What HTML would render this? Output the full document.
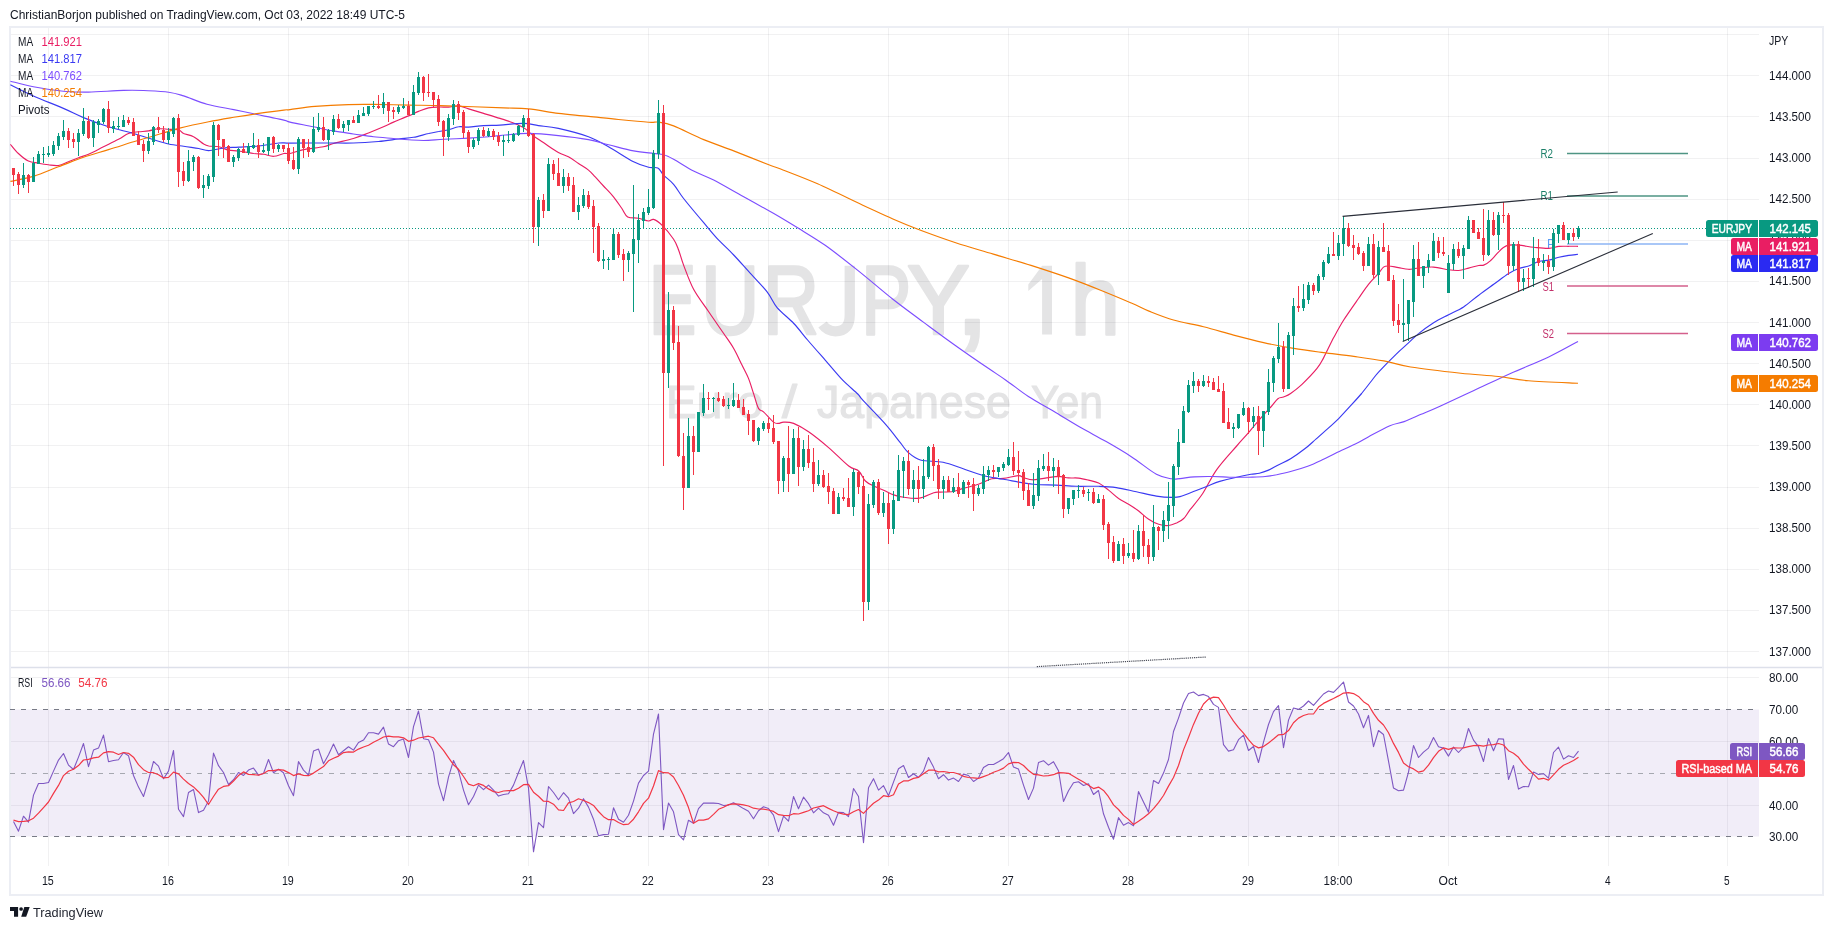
<!DOCTYPE html><html><head><meta charset="utf-8"><title>EURJPY 1h</title><style>html,body{margin:0;padding:0;background:#fff}svg{display:block}</style></head><body><svg width="1833" height="930" viewBox="0 0 1833 930" font-family="Liberation Sans, sans-serif"><defs><filter id="gs" filterUnits="userSpaceOnUse" x="0" y="0" width="1833" height="930"><feOffset dx="0" dy="0"/></filter></defs><g filter="url(#gs)"><rect width="1833" height="930" fill="#fff"/><rect x="10" y="27" width="1813" height="868" fill="none" stroke="#eceef4" stroke-width="2"/><text transform="translate(648.71 334) scale(0.7358 1.0136)" font-size="97" fill="#e4e4e5" stroke="#e4e4e5" stroke-width="2.4" vector-effect="non-scaling-stroke" stroke-linejoin="round">E</text><text transform="translate(700.83 334) scale(0.8393 1.0136)" font-size="97" fill="#e4e4e5" stroke="#e4e4e5" stroke-width="2.4" vector-effect="non-scaling-stroke" stroke-linejoin="round">U</text><text transform="translate(763.09 334) scale(0.8018 1.0136)" font-size="97" fill="#e4e4e5" stroke="#e4e4e5" stroke-width="2.4" vector-effect="non-scaling-stroke" stroke-linejoin="round">R</text><text transform="translate(860.90 334) scale(0.7750 1.0136)" font-size="97" fill="#e4e4e5" stroke="#e4e4e5" stroke-width="2.4" vector-effect="non-scaling-stroke" stroke-linejoin="round">P</text><text transform="translate(906.86 334) scale(0.9797 1.0136)" font-size="97" fill="#e4e4e5" stroke="#e4e4e5" stroke-width="2.4" vector-effect="non-scaling-stroke" stroke-linejoin="round">Y</text><text transform="translate(953.70 334) scale(1.3667 1.3667)" font-size="97" fill="#e4e4e5" stroke="#e4e4e5" stroke-width="2.4" vector-effect="non-scaling-stroke" stroke-linejoin="round">,</text><text transform="translate(1070.46 334) scale(0.9195 1.0136)" font-size="97" fill="#e4e4e5" stroke="#e4e4e5" stroke-width="2.4" vector-effect="non-scaling-stroke" stroke-linejoin="round">h</text><path d="M1042.1 265.8H1052V334.6H1042.1V279L1028.3 291V284.5z" fill="#e4e4e5"/><path d="M849.75 265.8V315Q849.75 331.3 835.5 331.3Q827.5 331.3 822.5 324.5" fill="none" stroke="#e4e4e5" stroke-width="10.3"/><text x="666" y="418" font-size="46.5" fill="#e4e4e5" stroke="#e4e4e5" stroke-width="1.2" stroke-linejoin="round" textLength="97" lengthAdjust="spacingAndGlyphs">Euro</text><text x="782" y="418" font-size="46.5" fill="#e4e4e5" stroke="#e4e4e5" stroke-width="1.2" stroke-linejoin="round" textLength="15" lengthAdjust="spacingAndGlyphs">/</text><text x="817" y="418" font-size="46.5" fill="#e4e4e5" stroke="#e4e4e5" stroke-width="1.2" stroke-linejoin="round" textLength="194" lengthAdjust="spacingAndGlyphs">Japanese</text><text x="1031" y="418" font-size="46.5" fill="#e4e4e5" stroke="#e4e4e5" stroke-width="1.2" stroke-linejoin="round" textLength="72" lengthAdjust="spacingAndGlyphs">Yen</text><path d="M11 34.5H1759 M11 75.5H1759 M11 116.5H1759 M11 158.5H1759 M11 199.5H1759 M11 240.5H1759 M11 281.5H1759 M11 322.5H1759 M11 363.5H1759 M11 404.5H1759 M11 445.5H1759 M11 487.5H1759 M11 528.5H1759 M11 569.5H1759 M11 610.5H1759 M11 651.5H1759 M11 677.5H1759 M11 741.5H1759 M11 805.5H1759 M48.5 28V866 M168.5 28V866 M288.5 28V866 M408.5 28V866 M528.5 28V866 M648.5 28V866 M768.5 28V866 M888.5 28V866 M1008.5 28V866 M1128.5 28V866 M1248.5 28V866 M1338.5 28V866 M1448.5 28V866 M1608.5 28V866 M1727.5 28V866" stroke="rgba(42,46,57,0.068)" stroke-width="1" fill="none"/><path d="M11 667.5H1822" stroke="#dde0ea" stroke-width="1.3"/><rect x="11" y="709.5" width="1748" height="127" fill="#7e57c2" fill-opacity="0.11"/><path d="M10 709.5H1759M10 836.5H1759" stroke="#787b86" stroke-width="1.2" stroke-dasharray="5 6"/><path d="M10 773.5H1759" stroke="#a6a8b0" stroke-width="1.2" stroke-dasharray="5 6"/><path d="M10 228.5H1706" stroke="#089981" stroke-width="1" stroke-dasharray="1 2"/><path d="M1567 153.5H1688M1567 196H1688" stroke="#4f9584" stroke-width="1.4"/><path d="M1567 244H1688" stroke="#8db4f5" stroke-width="1.4"/><path d="M1567 286H1688M1567 333.5H1688" stroke="#d4608c" stroke-width="1.4"/><g font-size="12"><text x="1540.5" y="158" fill="#1b7f68" textLength="12.5" lengthAdjust="spacingAndGlyphs">R2</text><text x="1540.5" y="200" fill="#1b7f68" textLength="12.5" lengthAdjust="spacingAndGlyphs">R1</text><text x="1547" y="248" fill="#5b9cf6">P</text><text x="1542.5" y="290.5" fill="#c2306a" textLength="11.5" lengthAdjust="spacingAndGlyphs">S1</text><text x="1542.5" y="338" fill="#c2306a" textLength="11.5" lengthAdjust="spacingAndGlyphs">S2</text></g><path d="M10.4 144.3C11.7 145.8 15.4 150.7 18.4 153.5C21.4 156.3 25.0 159.4 28.4 161.0C31.7 162.6 35.1 162.5 38.4 163.2C41.7 163.8 45.1 164.4 48.4 164.8C51.8 165.2 55.1 166.0 58.4 165.5C61.8 165.0 65.1 163.1 68.4 161.8C71.8 160.5 75.1 158.9 78.5 157.7C81.8 156.4 84.3 156.1 88.5 154.3C92.7 152.5 98.5 149.3 103.5 146.8C108.5 144.3 114.4 141.5 118.5 139.3C122.7 137.1 125.2 134.7 128.5 133.5C131.9 132.2 135.2 132.2 138.6 131.8C141.9 131.4 145.2 131.5 148.6 130.9C151.9 130.4 155.3 129.1 158.6 128.8C161.9 128.5 165.3 129.1 168.6 129.3C171.9 129.4 176.1 129.1 178.6 129.8C181.1 130.5 181.1 132.3 183.6 133.5C186.1 134.6 190.3 135.0 193.6 136.8C197.0 138.5 201.2 142.4 203.7 144.0C206.2 145.5 206.2 145.5 208.7 146.0C211.2 146.4 215.4 146.1 218.7 146.8C222.0 147.5 225.4 149.5 228.7 150.1C232.0 150.8 234.5 150.4 238.7 151.0C242.9 151.5 249.6 152.9 253.7 153.5C257.9 154.0 260.4 153.8 263.8 154.3C267.1 154.8 270.4 156.5 273.8 156.3C277.1 156.2 281.1 154.0 283.8 153.5C286.5 153.0 286.7 154.1 290.0 153.5C293.3 152.8 297.8 150.8 303.4 149.6C308.9 148.5 318.4 147.8 323.4 146.8C328.4 145.8 328.4 144.9 333.4 143.5C338.4 142.1 347.6 140.2 353.4 138.5C359.3 136.7 363.5 134.9 368.5 133.0C373.5 131.0 379.3 128.6 383.5 126.8C387.7 125.0 389.3 123.9 393.5 122.1C397.7 120.3 404.4 117.7 408.5 115.9C412.7 114.1 415.2 112.8 418.5 111.4C421.9 110.1 425.2 108.6 428.6 107.9C431.9 107.2 435.2 107.2 438.6 107.1C441.9 106.9 445.3 107.3 448.6 107.1C451.9 106.9 455.3 105.6 458.6 105.9C461.9 106.2 464.5 107.7 468.6 108.9C472.8 110.2 478.4 111.8 483.6 113.4C488.9 115.0 495.6 117.0 500.0 118.4C504.4 119.8 506.1 120.2 510.0 121.7C513.9 123.2 519.5 125.2 523.4 127.6C527.3 129.9 530.0 133.4 533.4 135.9C536.7 138.4 539.2 139.8 543.4 142.6C547.6 145.4 554.3 150.2 558.4 152.6C562.6 155.0 565.1 155.0 568.4 156.8C571.8 158.6 575.1 161.2 578.5 163.5C581.8 165.7 585.7 167.9 588.5 170.1C591.3 172.4 592.7 174.2 595.2 176.8C597.7 179.5 600.4 182.7 603.5 186.0C606.6 189.3 610.5 193.1 613.5 196.8C616.6 200.6 619.5 205.2 621.9 208.5C624.2 211.9 624.9 215.3 627.7 216.9C630.5 218.5 635.1 217.5 638.6 218.2C642.0 218.9 646.1 220.9 648.6 221.0C651.1 221.2 651.4 218.7 653.6 219.4C655.8 220.1 658.6 221.9 661.9 225.2C665.3 228.5 670.8 235.1 673.6 239.2C676.4 243.3 677.0 245.7 678.6 250.0C680.3 254.4 681.1 258.5 683.6 265.1C686.1 271.6 689.5 281.5 693.6 289.3C697.8 297.1 703.7 304.4 708.7 311.8C713.7 319.2 719.5 327.4 723.7 333.5C727.9 339.6 730.7 343.2 733.7 348.5C736.8 353.8 739.6 360.3 742.1 365.2C744.5 370.2 746.6 373.7 748.5 378.4C750.4 383.1 751.8 388.4 753.5 393.4C755.2 398.4 756.8 405.4 758.5 408.4C760.2 411.5 761.0 409.5 763.5 411.8C766.0 414.0 771.0 420.2 773.5 422.1C776.0 424.0 776.9 423.4 778.5 423.4C780.2 423.4 781.0 422.1 783.6 422.1C786.1 422.1 789.4 421.8 793.6 423.4C797.7 425.1 802.7 427.7 808.6 431.8C814.4 435.8 821.9 441.9 828.6 447.6C835.3 453.3 843.6 462.1 848.7 466.0C853.7 469.9 855.9 468.5 858.7 471.0C861.5 473.5 862.8 478.5 865.4 481.0C867.9 483.5 870.6 484.5 873.7 486.0C876.8 487.6 880.4 488.7 883.7 490.2C887.1 491.7 890.4 493.7 893.7 494.9C897.1 496.1 899.6 496.7 903.7 497.2C907.9 497.8 913.8 499.0 918.8 498.2C923.8 497.5 930.3 493.7 933.8 492.7C937.3 491.7 936.7 492.3 940.0 492.1C943.3 491.9 949.5 492.1 953.4 491.5C957.3 490.8 959.2 489.6 963.4 488.4C967.5 487.2 973.7 485.9 978.4 484.3C983.1 482.7 987.6 479.7 991.8 478.8C995.9 477.8 999.0 479.0 1003.4 478.4C1007.9 477.9 1015.1 475.7 1018.5 475.6C1021.8 475.5 1021.0 476.9 1023.5 477.6C1026.0 478.3 1029.3 479.8 1033.5 479.8C1037.7 479.8 1044.3 478.2 1048.5 477.6C1052.7 477.0 1055.2 476.4 1058.5 476.4C1061.9 476.5 1065.2 477.6 1068.5 477.9C1071.9 478.2 1075.2 477.7 1078.6 478.1C1081.9 478.5 1085.2 479.3 1088.6 480.1C1091.9 480.9 1095.3 481.4 1098.6 483.1C1101.9 484.8 1105.3 487.6 1108.6 490.1C1111.9 492.7 1115.3 496.1 1118.6 498.5C1122.0 500.8 1125.3 502.2 1128.6 504.3C1132.0 506.4 1135.3 508.5 1138.7 511.0C1142.0 513.5 1145.3 517.1 1148.7 519.3C1152.0 521.6 1155.4 523.3 1158.7 524.3C1162.0 525.4 1165.6 525.8 1168.7 525.5C1171.8 525.2 1174.5 523.8 1177.1 522.7C1179.6 521.5 1181.6 520.6 1183.7 518.5C1185.9 516.4 1186.8 514.1 1189.9 509.9C1193.1 505.8 1198.2 500.2 1202.7 493.5C1207.2 486.7 1211.2 477.3 1216.9 469.4C1222.6 461.4 1231.5 452.0 1236.7 446.0C1241.9 439.9 1244.3 437.6 1248.1 433.2C1251.9 428.8 1255.7 424.1 1259.4 419.7C1263.2 415.3 1267.7 410.4 1270.8 407.0C1273.9 403.5 1275.7 400.4 1277.9 398.7C1280.0 397.1 1281.4 397.9 1283.5 397.0C1285.7 396.1 1287.6 395.6 1290.6 393.5C1293.7 391.3 1297.6 388.4 1302.0 384.3C1306.4 380.1 1313.4 372.9 1317.0 368.4C1320.7 364.0 1320.9 362.7 1323.7 357.6C1326.5 352.4 1330.4 343.8 1333.7 337.6C1337.1 331.3 1339.6 326.5 1343.7 320.0C1347.9 313.5 1354.3 304.5 1358.5 298.5C1362.6 292.6 1365.1 288.5 1368.5 284.3C1371.8 280.1 1376.0 276.3 1378.5 273.5C1381.0 270.6 1381.8 268.4 1383.5 267.1C1385.2 265.9 1386.0 265.9 1388.5 266.0C1391.0 266.0 1395.2 267.1 1398.5 267.6C1401.9 268.2 1405.2 269.2 1408.5 269.3C1411.9 269.4 1414.4 268.3 1418.6 268.0C1422.7 267.6 1428.6 266.8 1433.6 267.1C1438.6 267.4 1444.4 269.2 1448.6 269.8C1452.8 270.4 1455.3 270.7 1458.6 270.5C1462.0 270.2 1465.3 269.0 1468.6 268.1C1472.0 267.3 1476.2 266.0 1478.7 265.5C1481.2 265.0 1481.7 265.9 1483.7 265.1C1485.6 264.4 1487.8 263.2 1490.3 260.9C1492.8 258.7 1496.5 254.0 1498.7 251.8C1500.9 249.5 1502.0 248.4 1503.7 247.3C1505.4 246.1 1506.2 245.5 1508.7 245.1C1511.2 244.7 1514.5 244.7 1518.7 245.1C1522.9 245.5 1528.7 246.7 1533.7 247.3C1538.8 247.8 1544.6 248.6 1548.8 248.4C1552.9 248.3 1555.5 246.8 1558.8 246.4C1562.1 246.1 1565.6 246.3 1568.8 246.3C1572.0 246.2 1576.5 246.3 1578.0 246.3" fill="none" stroke="#e91e63" stroke-width="1.15" stroke-linejoin="round"/><path d="M10.4 84.7C14.2 86.6 24.5 91.9 33.4 95.9C42.2 99.8 55.1 104.8 63.4 108.4C71.8 112.0 76.0 114.5 83.5 117.6C91.0 120.7 100.2 124.1 108.5 126.8C116.9 129.4 126.0 131.3 133.6 133.5C141.1 135.6 147.7 138.0 153.6 139.8C159.4 141.5 163.6 142.9 168.6 144.0C173.6 145.1 178.6 145.6 183.6 146.3C188.6 147.1 194.5 147.8 198.7 148.5C202.8 149.2 204.5 150.7 208.7 150.6C212.8 150.6 218.7 148.6 223.7 148.0C228.7 147.4 232.9 147.5 238.7 147.1C244.6 146.8 252.1 146.7 258.8 146.0C265.4 145.3 273.6 143.4 278.8 143.0C284.0 142.5 282.6 143.1 290.0 143.1C297.4 143.1 312.8 143.0 323.4 143.0C334.0 142.9 344.3 143.2 353.4 143.0C362.6 142.7 371.0 142.1 378.5 141.5C386.0 140.8 392.7 139.7 398.5 139.0C404.4 138.3 408.5 138.2 413.5 137.3C418.5 136.4 424.4 134.4 428.6 133.5C432.7 132.5 435.2 132.1 438.6 131.5C441.9 130.8 445.3 130.6 448.6 129.8C451.9 129.0 455.3 127.2 458.6 126.8C461.9 126.3 464.5 127.3 468.6 127.1C472.8 126.9 478.4 125.9 483.6 125.6C488.9 125.3 493.4 125.4 500.0 125.1C506.6 124.7 517.0 123.3 523.4 123.4C529.8 123.5 532.6 124.7 538.4 125.6C544.2 126.4 550.1 126.5 558.4 128.4C566.8 130.3 580.1 133.7 588.5 136.7C596.8 139.8 601.0 142.6 608.5 146.8C616.0 150.9 626.9 158.4 633.6 161.8C640.2 165.2 644.5 166.3 648.6 167.3C652.6 168.3 655.3 166.7 657.8 168.0C660.3 169.3 661.0 172.4 663.6 175.1C666.2 177.9 670.3 180.4 673.6 184.3C677.0 188.2 678.6 192.1 683.6 198.5C688.6 204.9 698.1 216.1 703.7 222.7C709.2 229.4 712.0 233.0 717.0 238.4C722.0 243.7 728.2 249.2 733.7 255.0C739.3 260.9 744.8 267.3 750.4 273.4C756.0 279.5 762.7 286.1 767.1 291.8C771.6 297.5 772.7 302.3 777.1 307.6C781.6 312.9 788.7 318.1 793.8 323.5C798.9 328.9 802.4 333.9 807.6 340.0C812.8 346.1 819.3 353.4 825.2 360.1C831.0 366.8 837.3 374.5 842.7 380.2C848.2 385.8 854.4 390.6 857.8 394.0C861.1 397.3 858.2 395.2 862.8 400.2C867.4 405.2 879.1 417.0 885.4 424.1C891.7 431.2 896.7 438.2 900.5 442.9C904.2 447.6 904.6 449.3 908.0 452.2C911.3 455.0 914.7 458.3 920.5 460.0C926.4 461.6 936.0 460.8 943.1 462.2C950.2 463.7 956.5 466.5 963.2 468.7C969.9 471.0 976.6 473.8 983.3 475.5C990.0 477.3 995.0 477.8 1003.3 479.3C1011.7 480.7 1024.7 483.3 1033.5 484.3C1042.2 485.3 1048.9 484.7 1056.1 485.1C1063.2 485.4 1069.0 486.1 1076.1 486.3C1083.2 486.5 1092.0 486.1 1098.7 486.3C1105.4 486.5 1110.0 486.6 1116.3 487.6C1122.6 488.5 1129.7 490.4 1136.4 491.8C1143.0 493.2 1150.6 495.2 1156.4 496.1C1162.3 497.0 1167.6 497.3 1171.5 497.3C1175.4 497.4 1176.2 497.6 1180.0 496.6C1183.8 495.6 1189.5 493.2 1194.2 491.3C1198.9 489.5 1204.1 487.3 1208.4 485.7C1212.6 484.0 1215.0 482.8 1219.7 481.4C1224.4 480.0 1231.5 478.3 1236.7 477.2C1241.9 476.0 1247.1 475.0 1250.9 474.3C1254.7 473.7 1256.6 473.9 1259.4 473.2C1262.3 472.5 1264.6 471.8 1267.9 470.4C1271.3 468.9 1275.5 466.3 1279.3 464.4C1283.1 462.5 1286.4 461.3 1290.6 458.7C1294.9 456.1 1300.6 452.1 1304.8 448.8C1309.1 445.5 1312.4 442.2 1316.2 438.9C1320.0 435.6 1323.7 432.4 1327.5 428.9C1331.3 425.5 1335.1 422.1 1338.9 418.3C1342.6 414.5 1346.4 410.4 1350.2 406.2C1354.0 402.1 1357.9 397.8 1361.6 393.5C1365.2 389.1 1369.3 383.6 1372.2 380.0C1375.1 376.4 1374.8 376.1 1378.8 371.8C1382.8 367.5 1391.0 359.1 1396.0 354.3C1401.0 349.4 1404.8 346.4 1408.5 342.9C1412.3 339.5 1414.4 336.9 1418.6 333.6C1422.7 330.2 1428.6 325.9 1433.6 322.7C1438.6 319.6 1443.6 317.3 1448.6 314.7C1453.6 312.1 1458.6 310.1 1463.6 306.9C1468.6 303.6 1473.6 298.9 1478.7 295.2C1483.7 291.4 1488.7 287.9 1493.7 284.3C1498.7 280.7 1504.5 276.1 1508.7 273.5C1512.9 270.8 1515.4 269.7 1518.7 268.5C1522.1 267.2 1525.4 267.1 1528.7 266.0C1532.1 264.8 1535.4 262.4 1538.8 261.5C1542.1 260.5 1545.4 260.8 1548.8 260.1C1552.1 259.4 1555.5 258.1 1558.8 257.3C1562.1 256.5 1565.6 255.9 1568.8 255.4C1572.0 254.9 1576.5 254.5 1578.0 254.3" fill="none" stroke="#3a3af2" stroke-width="1.15" stroke-linejoin="round"/><path d="M10.4 81.2C14.2 82.1 24.5 85.0 33.4 86.7C42.2 88.4 54.3 90.3 63.4 91.2C72.6 92.1 78.5 92.2 88.5 92.1C98.5 91.9 114.4 90.6 123.5 90.4C132.7 90.1 136.1 90.2 143.6 90.5C151.1 90.9 161.9 91.3 168.6 92.2C175.3 93.1 177.2 93.9 183.6 95.9C190.0 97.9 198.7 102.0 207.0 104.2C215.4 106.5 225.9 108.0 233.7 109.6C241.5 111.2 245.4 112.0 253.7 113.8C262.1 115.5 277.8 118.7 283.8 120.1C289.8 121.5 285.1 121.0 290.0 122.1C294.9 123.2 306.1 125.3 313.4 126.8C320.6 128.3 326.7 129.8 333.4 130.9C340.1 132.1 346.8 133.0 353.4 134.0C360.1 134.9 366.8 136.0 373.5 136.8C380.1 137.5 387.7 138.0 393.5 138.5C399.3 139.0 403.5 139.5 408.5 139.8C413.5 140.1 417.7 140.5 423.6 140.5C429.4 140.4 436.1 139.7 443.6 139.3C451.1 138.9 461.1 138.5 468.6 138.1C476.1 137.7 483.4 137.2 488.7 136.8C493.9 136.4 493.4 136.1 500.0 135.6C506.6 135.0 518.6 133.4 528.4 133.4C538.1 133.4 548.4 134.5 558.4 135.6C568.4 136.6 580.1 138.1 588.5 139.6C596.8 141.1 601.0 142.9 608.5 144.8C616.0 146.6 626.0 149.5 633.6 150.9C641.1 152.4 648.6 152.8 653.6 153.4C658.6 154.1 660.3 153.8 663.6 154.8C666.9 155.7 668.6 156.6 673.6 159.3C678.6 162.0 687.0 167.5 693.6 171.0C700.3 174.4 705.3 175.8 713.7 180.1C722.0 184.5 733.7 191.3 743.7 196.8C753.7 202.4 764.8 208.4 773.8 213.5C782.8 218.7 789.0 222.5 797.6 227.8C806.1 233.1 815.1 238.2 825.2 245.3C835.2 252.4 846.5 261.4 857.8 270.4C869.1 279.4 882.1 290.7 892.9 299.3C903.8 307.9 912.6 314.1 923.0 321.9C933.5 329.6 944.8 338.0 955.7 345.7C966.5 353.4 979.9 362.6 988.3 368.3C996.7 374.0 999.2 375.5 1005.9 380.2C1012.6 384.8 1020.1 391.0 1028.4 396.5C1036.8 401.9 1047.3 407.5 1056.1 412.8C1064.8 418.0 1072.8 423.0 1081.1 427.8C1089.5 432.6 1097.9 436.8 1106.2 441.6C1114.6 446.4 1123.0 451.3 1131.3 456.7C1139.7 462.1 1149.7 470.6 1156.4 474.3C1163.1 477.9 1167.6 478.1 1171.5 478.8C1175.4 479.5 1176.2 478.9 1180.0 478.6C1183.8 478.3 1188.7 477.2 1194.2 476.9C1199.6 476.5 1206.7 476.4 1212.6 476.5C1218.5 476.5 1223.7 477.0 1229.6 477.2C1235.6 477.3 1242.2 477.3 1248.1 477.2C1254.0 477.0 1260.4 476.9 1265.1 476.5C1269.8 476.1 1272.2 475.6 1276.5 474.8C1280.7 473.9 1285.4 472.9 1290.6 471.5C1295.8 470.1 1302.5 468.1 1307.7 466.2C1312.9 464.3 1317.1 462.3 1321.8 460.1C1326.6 457.9 1330.1 455.9 1336.0 453.0C1341.9 450.2 1351.9 445.8 1357.3 443.1C1362.7 440.4 1363.2 439.6 1368.7 436.7C1374.1 433.8 1384.0 428.2 1389.9 425.7C1395.8 423.1 1398.9 423.5 1404.1 421.6C1409.3 419.7 1415.2 416.9 1421.1 414.3C1427.1 411.8 1431.3 410.2 1440.0 406.2C1448.7 402.3 1461.5 396.3 1473.4 390.8C1485.2 385.3 1498.5 378.9 1511.0 373.2C1523.6 367.6 1537.5 362.2 1548.7 356.9C1559.8 351.6 1573.1 344.0 1578.0 341.4" fill="none" stroke="#7c4dff" stroke-width="1.15" stroke-linejoin="round"/><path d="M10.4 181.4C14.2 180.5 25.4 178.8 33.4 176.4C41.4 173.9 50.1 170.0 58.4 166.8C66.8 163.7 75.1 160.2 83.5 157.3C91.8 154.5 100.2 152.2 108.5 149.6C116.9 147.1 126.0 144.1 133.6 141.8C141.1 139.5 146.1 138.2 153.6 136.0C161.1 133.7 169.4 130.8 178.6 128.4C187.8 126.1 199.5 123.6 208.7 121.8C217.9 119.9 225.4 118.7 233.7 117.3C242.1 115.9 250.4 114.6 258.8 113.4C267.1 112.2 278.6 110.7 283.8 110.1C289.0 109.4 284.8 110.2 290.0 109.6C295.2 109.0 305.3 107.2 315.0 106.4C324.8 105.6 338.7 104.9 348.4 104.6C358.2 104.2 363.5 104.3 373.5 104.4C383.5 104.5 397.4 104.9 408.5 105.1C419.7 105.3 429.4 105.3 440.2 105.6C451.1 105.9 463.1 106.4 473.6 106.7C484.2 107.1 494.6 107.6 503.7 107.9C512.8 108.3 519.3 108.0 528.4 108.9C537.5 109.8 548.4 112.1 558.4 113.4C568.4 114.6 578.5 115.3 588.5 116.4C598.5 117.4 608.5 118.6 618.5 119.5C628.5 120.5 641.9 121.8 648.6 122.2C655.3 122.7 654.4 121.6 658.6 122.2C662.8 122.8 666.1 123.0 673.6 125.9C681.1 128.8 693.6 135.4 703.7 139.6C713.7 143.8 722.9 146.7 733.7 150.9C744.6 155.1 761.1 161.8 768.8 164.8C776.5 167.8 771.9 165.6 780.0 168.8C788.1 172.0 803.8 177.8 817.6 183.8C831.4 189.9 850.3 199.3 862.8 205.2C875.4 211.0 883.3 214.8 892.9 219.0C902.5 223.2 910.1 226.3 920.5 230.3C931.0 234.2 943.5 238.8 955.7 242.8C967.8 246.8 980.8 250.3 993.3 254.1C1005.9 257.9 1018.4 261.4 1031.0 265.4C1043.5 269.4 1056.9 273.8 1068.6 277.9C1080.3 282.1 1090.8 286.3 1101.2 290.5C1111.7 294.7 1123.5 299.7 1131.3 303.0C1139.2 306.4 1141.4 308.0 1148.4 310.9C1155.5 313.7 1164.3 317.4 1173.5 320.0C1182.7 322.7 1193.5 324.2 1203.5 326.7C1213.5 329.2 1223.6 332.4 1233.6 335.1C1243.6 337.7 1253.6 340.3 1263.6 342.6C1273.6 344.8 1283.6 346.7 1293.7 348.4C1303.7 350.1 1313.7 351.3 1323.7 352.6C1333.7 353.9 1343.7 355.0 1353.8 356.4C1363.8 357.8 1374.3 359.2 1383.8 360.9C1393.3 362.7 1397.8 364.9 1410.6 367.0C1423.5 369.0 1446.2 371.6 1460.8 373.2C1475.5 374.8 1487.2 375.2 1498.5 376.5C1509.8 377.8 1515.3 379.6 1528.6 380.8C1541.9 381.9 1569.8 382.9 1578.0 383.3" fill="none" stroke="#f57c00" stroke-width="1.15" stroke-linejoin="round"/><path d="M23 163h1V188h-1z M22 175h3V185h-3z M33 157h1V182h-1z M32 163h3V182h-3z M38 151h1V164h-1z M37 154h3V164h-3z M43 147h1V163h-1z M42 154h3V155h-3z M48 146h1V157h-1z M47 153h3V155h-3z M53 141h1V156h-1z M52 145h3V154h-3z M58 133h1V150h-1z M57 136h3V146h-3z M63 120h1V140h-1z M62 131h3V137h-3z M78 129h1V156h-1z M77 133h3V142h-3z M83 108h1V136h-1z M82 121h3V134h-3z M93 120h1V147h-1z M92 122h3V138h-3z M98 119h1V133h-1z M97 121h3V125h-3z M103 108h1V124h-1z M102 109h3V122h-3z M113 121h1V133h-1z M112 126h3V129h-3z M118 117h1V129h-1z M117 126h3V127h-3z M123 115h1V127h-1z M122 120h3V127h-3z M148 133h1V154h-1z M147 141h3V151h-3z M153 126h1V145h-1z M152 127h3V142h-3z M168 128h1V144h-1z M167 132h3V140h-3z M173 117h1V137h-1z M172 118h3V134h-3z M188 150h1V182h-1z M187 161h3V181h-3z M193 155h1V171h-1z M192 157h3V162h-3z M203 175h1V198h-1z M202 185h3V188h-3z M208 174h1V189h-1z M207 176h3V186h-3z M213 122h1V182h-1z M212 125h3V177h-3z M233 155h1V167h-1z M232 157h3V162h-3z M238 148h1V161h-1z M237 149h3V158h-3z M248 143h1V155h-1z M247 146h3V153h-3z M253 133h1V149h-1z M252 145h3V148h-3z M263 143h1V153h-1z M262 150h3V152h-3z M268 137h1V155h-1z M267 137h3V151h-3z M278 144h1V152h-1z M277 145h3V149h-3z M298 137h1V174h-1z M297 139h3V169h-3z M313 117h1V153h-1z M312 129h3V152h-3z M318 113h1V132h-1z M317 127h3V130h-3z M328 129h1V150h-1z M327 130h3V140h-3z M333 115h1V135h-1z M332 119h3V132h-3z M343 121h1V132h-1z M342 124h3V128h-3z M348 120h1V131h-1z M347 120h3V125h-3z M358 110h1V123h-1z M357 115h3V123h-3z M363 107h1V116h-1z M362 113h3V116h-3z M368 106h1V116h-1z M367 106h3V114h-3z M373 101h1V109h-1z M372 106h3V107h-3z M383 93h1V114h-1z M382 102h3V108h-3z M398 105h1V114h-1z M397 107h3V112h-3z M403 98h1V109h-1z M402 106h3V108h-3z M413 85h1V115h-1z M412 92h3V115h-3z M418 72h1V95h-1z M417 77h3V93h-3z M448 114h1V141h-1z M447 118h3V137h-3z M453 100h1V125h-1z M452 104h3V119h-3z M473 138h1V149h-1z M472 140h3V147h-3z M478 128h1V145h-1z M477 130h3V141h-3z M488 128h1V137h-1z M487 131h3V136h-3z M503 135h1V156h-1z M502 140h3V142h-3z M508 131h1V143h-1z M507 140h3V141h-3z M513 133h1V142h-1z M512 134h3V141h-3z M518 125h1V136h-1z M517 126h3V135h-3z M523 115h1V132h-1z M522 118h3V127h-3z M538 197h1V246h-1z M537 200h3V227h-3z M548 158h1V211h-1z M547 164h3V211h-3z M563 169h1V193h-1z M562 177h3V186h-3z M578 197h1V220h-1z M577 205h3V212h-3z M583 189h1V208h-1z M582 195h3V206h-3z M603 250h1V269h-1z M602 259h3V261h-3z M608 257h1V270h-1z M607 259h3V260h-3z M613 228h1V260h-1z M612 234h3V260h-3z M628 251h1V272h-1z M627 253h3V260h-3z M633 185h1V312h-1z M632 239h3V254h-3z M638 214h1V263h-1z M637 220h3V240h-3z M643 208h1V229h-1z M642 212h3V221h-3z M648 189h1V215h-1z M647 207h3V213h-3z M653 150h1V209h-1z M652 153h3V208h-3z M658 100h1V159h-1z M657 113h3V154h-3z M668 292h1V388h-1z M667 310h3V373h-3z M688 418h1V488h-1z M687 436h3V488h-3z M698 412h1V452h-1z M697 412h3V452h-3z M703 384h1V416h-1z M702 398h3V413h-3z M713 397h1V412h-1z M712 398h3V399h-3z M728 398h1V409h-1z M727 405h3V406h-3z M733 383h1V407h-1z M732 400h3V406h-3z M758 427h1V445h-1z M757 428h3V441h-3z M763 421h1V431h-1z M762 423h3V429h-3z M783 456h1V492h-1z M782 458h3V481h-3z M793 429h1V474h-1z M792 438h3V474h-3z M803 440h1V471h-1z M802 449h3V467h-3z M818 460h1V486h-1z M817 475h3V484h-3z M838 493h1V514h-1z M837 497h3V514h-3z M853 469h1V516h-1z M852 472h3V507h-3z M868 494h1V610h-1z M867 504h3V602h-3z M873 480h1V508h-1z M872 482h3V505h-3z M883 492h1V517h-1z M882 503h3V513h-3z M893 491h1V534h-1z M892 500h3V529h-3z M898 455h1V501h-1z M897 470h3V501h-3z M903 457h1V498h-1z M902 461h3V471h-3z M913 470h1V502h-1z M912 480h3V489h-3z M923 459h1V499h-1z M922 476h3V489h-3z M928 446h1V479h-1z M927 447h3V477h-3z M943 476h1V499h-1z M942 480h3V489h-3z M953 478h1V493h-1z M952 487h3V492h-3z M963 480h1V494h-1z M962 482h3V494h-3z M978 485h1V496h-1z M977 488h3V494h-3z M983 466h1V494h-1z M982 474h3V489h-3z M988 466h1V481h-1z M987 470h3V475h-3z M998 467h1V477h-1z M997 467h3V472h-3z M1003 462h1V471h-1z M1002 464h3V468h-3z M1008 449h1V466h-1z M1007 457h3V465h-3z M1033 473h1V509h-1z M1032 495h3V506h-3z M1038 460h1V501h-1z M1037 468h3V496h-3z M1043 454h1V471h-1z M1042 466h3V469h-3z M1053 458h1V487h-1z M1052 467h3V471h-3z M1068 498h1V514h-1z M1067 498h3V509h-3z M1073 490h1V505h-1z M1072 490h3V499h-3z M1078 485h1V498h-1z M1077 490h3V491h-3z M1088 489h1V501h-1z M1087 492h3V493h-3z M1098 494h1V503h-1z M1097 499h3V503h-3z M1118 541h1V561h-1z M1117 544h3V561h-3z M1128 543h1V558h-1z M1127 553h3V556h-3z M1138 525h1V560h-1z M1137 531h3V559h-3z M1153 505h1V561h-1z M1152 527h3V557h-3z M1163 511h1V542h-1z M1162 520h3V531h-3z M1168 482h1V539h-1z M1167 505h3V521h-3z M1173 464h1V517h-1z M1172 466h3V506h-3z M1178 429h1V475h-1z M1177 442h3V467h-3z M1183 406h1V443h-1z M1182 411h3V443h-3z M1188 380h1V413h-1z M1187 385h3V412h-3z M1193 372h1V393h-1z M1192 381h3V386h-3z M1203 375h1V387h-1z M1202 381h3V386h-3z M1233 423h1V438h-1z M1232 427h3V429h-3z M1238 414h1V429h-1z M1237 414h3V428h-3z M1243 402h1V416h-1z M1242 408h3V415h-3z M1253 407h1V428h-1z M1252 416h3V422h-3z M1263 411h1V447h-1z M1262 411h3V431h-3z M1268 369h1V415h-1z M1267 382h3V412h-3z M1273 356h1V392h-1z M1272 358h3V383h-3z M1278 323h1V363h-1z M1277 347h3V359h-3z M1288 332h1V389h-1z M1287 335h3V389h-3z M1293 298h1V355h-1z M1292 306h3V336h-3z M1303 284h1V311h-1z M1302 299h3V308h-3z M1308 282h1V304h-1z M1307 285h3V300h-3z M1318 274h1V293h-1z M1317 276h3V291h-3z M1323 260h1V280h-1z M1322 262h3V277h-3z M1328 247h1V264h-1z M1327 254h3V263h-3z M1338 235h1V260h-1z M1337 243h3V256h-3z M1343 216h1V256h-1z M1342 228h3V244h-3z M1368 237h1V266h-1z M1367 244h3V266h-3z M1378 241h1V285h-1z M1377 247h3V275h-3z M1403 279h1V341h-1z M1402 323h3V325h-3z M1408 300h1V341h-1z M1407 300h3V324h-3z M1413 245h1V317h-1z M1412 259h3V302h-3z M1423 266h1V288h-1z M1422 266h3V276h-3z M1428 254h1V273h-1z M1427 260h3V267h-3z M1433 233h1V261h-1z M1432 241h3V261h-3z M1448 255h1V293h-1z M1447 263h3V293h-3z M1453 244h1V270h-1z M1452 249h3V264h-3z M1463 245h1V279h-1z M1462 248h3V256h-3z M1468 216h1V249h-1z M1467 220h3V249h-3z M1488 210h1V256h-1z M1487 220h3V255h-3z M1498 212h1V250h-1z M1497 215h3V235h-3z M1513 242h1V271h-1z M1512 244h3V266h-3z M1523 269h1V291h-1z M1522 278h3V282h-3z M1533 237h1V287h-1z M1532 258h3V279h-3z M1543 254h1V271h-1z M1542 261h3V263h-3z M1553 229h1V271h-1z M1552 233h3V267h-3z M1558 225h1V243h-1z M1557 225h3V234h-3z M1568 233h1V244h-1z M1567 233h3V240h-3z M1578 226h1V239h-1z M1577 228h3V237h-3z" fill="#089981"/><path d="M13 168h1V186h-1z M12 168h3V175h-3z M18 172h1V194h-1z M17 174h3V185h-3z M28 174h1V193h-1z M27 175h3V182h-3z M68 128h1V148h-1z M67 131h3V140h-3z M73 133h1V148h-1z M72 139h3V142h-3z M88 116h1V139h-1z M87 121h3V138h-3z M108 101h1V133h-1z M107 109h3V128h-3z M128 117h1V125h-1z M127 120h3V123h-3z M133 118h1V136h-1z M132 122h3V136h-3z M138 131h1V145h-1z M137 135h3V145h-3z M143 140h1V162h-1z M142 144h3V151h-3z M158 117h1V133h-1z M157 127h3V130h-3z M163 126h1V142h-1z M162 130h3V140h-3z M178 114h1V187h-1z M177 118h3V172h-3z M183 162h1V186h-1z M182 171h3V181h-3z M198 156h1V189h-1z M197 157h3V188h-3z M218 124h1V156h-1z M217 125h3V140h-3z M223 139h1V158h-1z M222 139h3V147h-3z M228 145h1V162h-1z M227 146h3V162h-3z M243 143h1V153h-1z M242 149h3V153h-3z M258 139h1V158h-1z M257 145h3V152h-3z M273 136h1V153h-1z M272 137h3V149h-3z M283 145h1V152h-1z M282 145h3V149h-3z M288 143h1V164h-1z M287 148h3V161h-3z M293 147h1V170h-1z M292 160h3V169h-3z M303 139h1V158h-1z M302 139h3V148h-3z M308 139h1V157h-1z M307 147h3V152h-3z M323 117h1V141h-1z M322 127h3V140h-3z M338 114h1V129h-1z M337 119h3V128h-3z M353 116h1V123h-1z M352 120h3V123h-3z M378 95h1V109h-1z M377 106h3V108h-3z M388 102h1V122h-1z M387 102h3V111h-3z M393 107h1V119h-1z M392 110h3V112h-3z M408 101h1V115h-1z M407 106h3V115h-3z M423 76h1V101h-1z M422 77h3V93h-3z M428 74h1V97h-1z M427 92h3V93h-3z M433 92h1V107h-1z M432 92h3V100h-3z M438 95h1V126h-1z M437 99h3V122h-3z M443 120h1V156h-1z M442 121h3V137h-3z M458 101h1V120h-1z M457 104h3V113h-3z M463 110h1V138h-1z M462 112h3V133h-3z M468 130h1V153h-1z M467 132h3V147h-3z M483 127h1V137h-1z M482 130h3V136h-3z M493 129h1V140h-1z M492 131h3V137h-3z M498 132h1V146h-1z M497 136h3V142h-3z M528 109h1V137h-1z M527 118h3V136h-3z M533 133h1V243h-1z M532 134h3V227h-3z M543 194h1V218h-1z M542 200h3V211h-3z M553 160h1V180h-1z M552 164h3V174h-3z M558 158h1V186h-1z M557 173h3V186h-3z M568 173h1V191h-1z M567 177h3V186h-3z M573 177h1V212h-1z M572 185h3V212h-3z M588 191h1V209h-1z M587 195h3V207h-3z M593 200h1V253h-1z M592 206h3V227h-3z M598 223h1V262h-1z M597 226h3V261h-3z M618 232h1V258h-1z M617 234h3V255h-3z M623 249h1V281h-1z M622 254h3V260h-3z M663 105h1V466h-1z M662 113h3V373h-3z M673 306h1V350h-1z M672 310h3V343h-3z M678 326h1V457h-1z M677 342h3V456h-3z M683 433h1V510h-1z M682 456h3V488h-3z M693 426h1V475h-1z M692 436h3V452h-3z M708 392h1V410h-1z M707 398h3V399h-3z M718 392h1V402h-1z M717 398h3V401h-3z M723 396h1V407h-1z M722 399h3V406h-3z M738 394h1V408h-1z M737 400h3V408h-3z M743 399h1V415h-1z M742 407h3V415h-3z M748 410h1V435h-1z M747 414h3V421h-3z M753 420h1V442h-1z M752 420h3V441h-3z M768 418h1V433h-1z M767 423h3V429h-3z M773 415h1V444h-1z M772 428h3V442h-3z M778 441h1V494h-1z M777 441h3V481h-3z M788 426h1V492h-1z M787 458h3V474h-3z M798 427h1V486h-1z M797 438h3V467h-3z M808 435h1V468h-1z M807 449h3V463h-3z M813 448h1V492h-1z M812 462h3V484h-3z M823 470h1V488h-1z M822 475h3V487h-3z M828 473h1V504h-1z M827 486h3V492h-3z M833 488h1V514h-1z M832 491h3V514h-3z M843 488h1V501h-1z M842 497h3V499h-3z M848 478h1V507h-1z M847 498h3V507h-3z M858 471h1V494h-1z M857 472h3V487h-3z M863 476h1V621h-1z M862 486h3V602h-3z M878 479h1V515h-1z M877 482h3V513h-3z M888 493h1V544h-1z M887 503h3V529h-3z M908 450h1V495h-1z M907 461h3V489h-3z M918 466h1V503h-1z M917 480h3V489h-3z M933 444h1V481h-1z M932 447h3V466h-3z M938 459h1V499h-1z M937 465h3V489h-3z M948 476h1V492h-1z M947 480h3V492h-3z M958 473h1V497h-1z M957 487h3V494h-3z M968 480h1V498h-1z M967 482h3V485h-3z M973 478h1V511h-1z M972 484h3V494h-3z M993 465h1V477h-1z M992 470h3V472h-3z M1013 442h1V475h-1z M1012 457h3V471h-3z M1018 451h1V488h-1z M1017 470h3V473h-3z M1023 469h1V500h-1z M1022 472h3V491h-3z M1028 483h1V506h-1z M1027 490h3V506h-3z M1048 452h1V481h-1z M1047 466h3V471h-3z M1058 460h1V494h-1z M1057 467h3V477h-3z M1063 474h1V518h-1z M1062 475h3V509h-3z M1083 487h1V497h-1z M1082 490h3V494h-3z M1093 488h1V504h-1z M1092 492h3V503h-3z M1103 495h1V530h-1z M1102 499h3V525h-3z M1108 522h1V559h-1z M1107 524h3V543h-3z M1113 536h1V563h-1z M1112 542h3V561h-3z M1123 538h1V564h-1z M1122 544h3V556h-3z M1133 530h1V562h-1z M1132 553h3V559h-3z M1143 515h1V557h-1z M1142 531h3V546h-3z M1148 539h1V564h-1z M1147 545h3V557h-3z M1158 526h1V550h-1z M1157 527h3V531h-3z M1198 379h1V392h-1z M1197 381h3V386h-3z M1208 376h1V387h-1z M1207 381h3V383h-3z M1213 378h1V390h-1z M1212 382h3V390h-3z M1218 376h1V392h-1z M1217 389h3V392h-3z M1223 383h1V423h-1z M1222 391h3V423h-3z M1228 408h1V429h-1z M1227 422h3V429h-3z M1248 407h1V434h-1z M1247 408h3V422h-3z M1258 406h1V455h-1z M1257 416h3V431h-3z M1283 341h1V392h-1z M1282 347h3V389h-3z M1298 286h1V312h-1z M1297 306h3V308h-3z M1313 283h1V295h-1z M1312 285h3V291h-3z M1333 232h1V256h-1z M1332 254h3V256h-3z M1348 223h1V247h-1z M1347 228h3V246h-3z M1353 235h1V260h-1z M1352 245h3V248h-3z M1358 243h1V255h-1z M1357 247h3V254h-3z M1363 251h1V271h-1z M1362 253h3V266h-3z M1373 234h1V278h-1z M1372 244h3V275h-3z M1383 223h1V252h-1z M1382 247h3V252h-3z M1388 245h1V281h-1z M1387 251h3V281h-3z M1393 275h1V326h-1z M1392 280h3V321h-3z M1398 304h1V333h-1z M1397 320h3V325h-3z M1418 242h1V276h-1z M1417 259h3V276h-3z M1438 237h1V258h-1z M1437 241h3V253h-3z M1443 237h1V256h-1z M1442 252h3V254h-3z M1458 242h1V258h-1z M1457 249h3V256h-3z M1473 220h1V233h-1z M1472 220h3V233h-3z M1478 228h1V239h-1z M1477 232h3V239h-3z M1483 209h1V261h-1z M1482 238h3V255h-3z M1493 212h1V236h-1z M1492 220h3V235h-3z M1503 202h1V223h-1z M1502 215h3V216h-3z M1508 213h1V275h-1z M1507 215h3V266h-3z M1518 241h1V292h-1z M1517 244h3V282h-3z M1528 268h1V288h-1z M1527 278h3V279h-3z M1538 239h1V266h-1z M1537 258h3V263h-3z M1548 255h1V274h-1z M1547 261h3V267h-3z M1563 222h1V240h-1z M1562 225h3V240h-3z M1573 228h1V241h-1z M1572 233h3V237h-3z" fill="#f23645"/><path d="M1342.6 216.4L1617.7 192M1402.7 341.4L1652.8 233.5" stroke="#2a2e39" stroke-width="1.1" fill="none"/><path d="M1036.8 666.6L1206.6 657" stroke="#4a4d58" stroke-width="1.2" stroke-dasharray="1.2 0.9" fill="none"/><path d="M13.5 821.6 L18.5 831.2 L23.5 816.2 L28.5 822.2 L33.5 795.1 L38.5 783.5 L43.5 783.5 L48.5 782.5 L53.5 771.1 L58.5 760.1 L63.5 753.5 L68.5 765.1 L73.5 769.5 L78.5 757.1 L83.5 743.5 L88.5 766.7 L93.5 750.1 L98.5 748.1 L103.5 735.1 L108.5 761.7 L113.5 760.5 L118.5 759.7 L123.5 752.5 L128.5 755.7 L133.5 775.5 L138.5 787.1 L143.5 796.5 L148.5 780.1 L153.5 761.5 L158.5 766.1 L163.5 778.7 L168.5 771.1 L173.5 750.5 L178.5 809.2 L183.5 816.6 L188.5 792.5 L193.5 789.5 L198.5 812.6 L203.5 810.2 L208.5 801.1 L213.5 753.1 L218.5 765.7 L223.5 772.5 L228.5 784.5 L233.5 779.7 L238.5 772.5 L243.5 775.5 L248.5 770.1 L253.5 768.1 L258.5 775.1 L263.5 773.5 L268.5 759.5 L273.5 772.7 L278.5 769.1 L283.5 772.7 L288.5 785.7 L293.5 795.7 L298.5 761.5 L303.5 770.1 L308.5 775.1 L313.5 751.1 L318.5 749.1 L323.5 763.7 L328.5 754.7 L333.5 744.1 L338.5 754.7 L343.5 750.7 L348.5 746.7 L353.5 750.1 L358.5 742.5 L363.5 740.1 L368.5 732.7 L373.5 732.7 L378.5 734.1 L383.5 727.1 L388.5 744.1 L393.5 746.7 L398.5 740.7 L403.5 739.1 L408.5 757.5 L413.5 726.7 L418.5 711.0 L423.5 738.7 L428.5 739.7 L433.5 752.1 L438.5 784.1 L443.5 800.7 L448.5 777.1 L453.5 760.5 L458.5 771.1 L463.5 790.1 L468.5 804.7 L473.5 796.5 L478.5 785.1 L483.5 789.7 L488.5 785.1 L493.5 790.1 L498.5 796.1 L503.5 794.5 L508.5 793.7 L513.5 785.1 L518.5 772.5 L523.5 760.5 L528.5 788.1 L533.5 851.8 L538.5 822.6 L543.5 827.6 L548.5 786.5 L553.5 792.5 L558.5 799.7 L563.5 792.7 L568.5 798.1 L573.5 813.6 L578.5 808.2 L583.5 798.7 L588.5 807.1 L593.5 819.2 L598.5 835.8 L603.5 834.6 L608.5 834.2 L613.5 807.8 L618.5 819.2 L623.5 822.2 L628.5 815.2 L633.5 801.1 L638.5 783.1 L643.5 775.5 L648.5 771.1 L653.5 734.1 L658.5 714.0 L663.5 829.6 L668.5 803.1 L673.5 811.8 L678.5 834.6 L683.5 839.8 L688.5 820.2 L693.5 823.2 L698.5 808.6 L703.5 803.1 L708.5 803.1 L713.5 803.1 L718.5 803.5 L723.5 805.5 L728.5 805.1 L733.5 802.7 L738.5 805.5 L743.5 808.6 L748.5 811.2 L753.5 818.8 L758.5 810.8 L763.5 806.7 L768.5 808.6 L773.5 815.2 L778.5 831.6 L783.5 816.2 L788.5 821.2 L793.5 796.5 L798.5 808.8 L803.5 797.1 L808.5 803.7 L813.5 812.8 L818.5 808.2 L823.5 812.8 L828.5 815.2 L833.5 825.2 L838.5 812.2 L843.5 812.6 L848.5 816.6 L853.5 788.5 L858.5 796.5 L863.5 842.6 L868.5 787.7 L873.5 778.7 L878.5 790.1 L883.5 785.7 L888.5 795.7 L893.5 782.1 L898.5 768.7 L903.5 765.5 L908.5 777.5 L913.5 773.7 L918.5 777.5 L923.5 771.1 L928.5 757.5 L933.5 767.1 L938.5 778.7 L943.5 774.7 L948.5 780.1 L953.5 778.1 L958.5 781.5 L963.5 774.1 L968.5 775.5 L973.5 781.5 L978.5 778.1 L983.5 767.5 L988.5 764.5 L993.5 764.5 L998.5 761.7 L1003.5 758.7 L1008.5 752.5 L1013.5 767.1 L1018.5 769.1 L1023.5 785.1 L1028.5 799.5 L1033.5 788.1 L1038.5 762.5 L1043.5 760.7 L1048.5 765.1 L1053.5 761.7 L1058.5 770.7 L1063.5 801.5 L1068.5 790.7 L1073.5 782.7 L1078.5 781.7 L1083.5 785.5 L1088.5 783.7 L1093.5 794.5 L1098.5 790.5 L1103.5 813.8 L1108.5 827.2 L1113.5 839.2 L1118.5 817.6 L1123.5 825.2 L1128.5 822.6 L1133.5 825.8 L1138.5 791.5 L1143.5 802.1 L1148.5 812.2 L1153.5 780.5 L1158.5 783.5 L1163.5 773.1 L1168.5 759.5 L1173.5 731.5 L1178.5 718.1 L1183.5 703.0 L1188.5 693.6 L1193.5 692.0 L1198.5 695.6 L1203.5 694.4 L1208.5 696.6 L1213.5 704.4 L1218.5 707.4 L1223.5 744.7 L1228.5 751.1 L1233.5 749.7 L1238.5 739.7 L1243.5 735.1 L1248.5 750.5 L1253.5 746.5 L1258.5 762.5 L1263.5 742.1 L1268.5 724.5 L1273.5 711.6 L1278.5 705.6 L1283.5 747.7 L1288.5 720.1 L1293.5 708.0 L1298.5 709.4 L1303.5 706.0 L1308.5 701.0 L1313.5 705.4 L1318.5 699.6 L1323.5 694.0 L1328.5 691.0 L1333.5 692.4 L1338.5 687.4 L1343.5 682.0 L1348.5 702.0 L1353.5 706.0 L1358.5 714.0 L1363.5 727.7 L1368.5 715.4 L1373.5 746.7 L1378.5 730.5 L1383.5 734.5 L1388.5 761.1 L1393.5 788.1 L1398.5 790.7 L1403.5 790.1 L1408.5 772.1 L1413.5 745.5 L1418.5 757.5 L1423.5 752.1 L1428.5 748.1 L1433.5 737.5 L1438.5 746.7 L1443.5 748.1 L1448.5 756.1 L1453.5 747.1 L1458.5 752.5 L1463.5 747.1 L1468.5 728.5 L1473.5 740.1 L1478.5 746.7 L1483.5 761.5 L1488.5 738.5 L1493.5 750.7 L1498.5 738.7 L1503.5 739.1 L1508.5 779.5 L1513.5 765.5 L1518.5 789.1 L1523.5 786.5 L1528.5 786.7 L1533.5 772.1 L1538.5 774.5 L1543.5 773.7 L1548.5 778.1 L1553.5 752.5 L1558.5 747.1 L1563.5 759.1 L1568.5 755.7 L1573.5 757.5 L1578.5 751.1" fill="none" stroke="#7e57c2" stroke-width="1.1" stroke-linejoin="round"/><path d="M13.5 820.2 L18.5 821.6 L23.5 821.4 L28.5 820.8 L33.5 818.2 L38.5 813.2 L43.5 807.6 L48.5 802.0 L53.5 793.4 L58.5 785.4 L63.5 775.6 L68.5 771.3 L73.5 769.3 L78.5 765.6 L83.5 760.0 L88.5 759.4 L93.5 757.9 L98.5 757.2 L103.5 752.9 L108.5 751.7 L113.5 752.2 L118.5 754.5 L123.5 752.5 L128.5 753.3 L133.5 757.2 L138.5 764.7 L143.5 769.7 L148.5 772.5 L153.5 772.7 L158.5 774.7 L163.5 777.9 L168.5 777.3 L173.5 772.1 L178.5 773.9 L183.5 779.1 L188.5 783.5 L193.5 786.9 L198.5 791.7 L203.5 797.3 L208.5 804.5 L213.5 796.5 L218.5 789.2 L223.5 786.4 L228.5 785.7 L233.5 781.0 L238.5 775.6 L243.5 771.9 L248.5 774.4 L253.5 774.7 L258.5 775.1 L263.5 773.5 L268.5 770.6 L273.5 770.7 L278.5 769.7 L283.5 770.1 L288.5 772.6 L293.5 775.6 L298.5 773.9 L303.5 775.4 L308.5 775.7 L313.5 773.1 L318.5 769.8 L323.5 766.6 L328.5 760.8 L333.5 758.3 L338.5 756.1 L343.5 752.6 L348.5 751.9 L353.5 752.1 L358.5 749.1 L363.5 747.0 L368.5 745.3 L373.5 742.2 L378.5 739.8 L383.5 737.0 L388.5 736.2 L393.5 736.8 L398.5 736.8 L403.5 737.8 L408.5 741.3 L413.5 740.2 L418.5 738.0 L423.5 737.2 L428.5 736.2 L433.5 737.8 L438.5 744.3 L443.5 750.4 L448.5 757.6 L453.5 764.7 L458.5 769.3 L463.5 776.5 L468.5 784.1 L473.5 785.8 L478.5 783.6 L483.5 785.4 L488.5 788.9 L493.5 791.6 L498.5 792.5 L503.5 791.0 L508.5 790.6 L513.5 790.6 L518.5 788.2 L523.5 784.7 L528.5 784.4 L533.5 792.3 L538.5 796.3 L543.5 801.2 L548.5 801.4 L553.5 804.2 L558.5 809.8 L563.5 810.5 L568.5 802.8 L573.5 801.5 L578.5 798.8 L583.5 800.5 L588.5 802.6 L593.5 805.4 L598.5 811.5 L603.5 816.7 L608.5 819.7 L613.5 819.6 L618.5 822.5 L623.5 824.7 L628.5 824.1 L633.5 819.2 L638.5 811.8 L643.5 803.4 L648.5 798.2 L653.5 786.0 L658.5 770.6 L663.5 772.7 L668.5 772.9 L673.5 777.0 L678.5 785.5 L683.5 795.3 L688.5 807.6 L693.5 823.2 L698.5 820.2 L703.5 820.2 L708.5 818.9 L713.5 814.4 L718.5 809.3 L723.5 807.2 L728.5 804.6 L733.5 803.8 L738.5 804.1 L743.5 804.9 L748.5 806.0 L753.5 808.2 L758.5 809.0 L763.5 809.2 L768.5 810.0 L773.5 811.4 L778.5 814.7 L783.5 815.4 L788.5 815.7 L793.5 813.7 L798.5 814.0 L803.5 812.4 L808.5 810.7 L813.5 808.0 L818.5 806.9 L823.5 805.7 L828.5 808.4 L833.5 810.7 L838.5 812.8 L843.5 814.1 L848.5 814.6 L853.5 811.8 L858.5 809.5 L863.5 813.4 L868.5 808.1 L873.5 803.3 L878.5 800.1 L883.5 795.7 L888.5 796.7 L893.5 794.7 L898.5 784.1 L903.5 780.9 L908.5 780.8 L913.5 778.4 L918.5 777.3 L923.5 773.7 L928.5 770.2 L933.5 770.0 L938.5 771.9 L943.5 771.5 L948.5 772.4 L953.5 772.5 L958.5 774.0 L963.5 776.3 L968.5 777.5 L973.5 777.9 L978.5 778.4 L983.5 776.6 L988.5 774.7 L993.5 772.3 L998.5 770.5 L1003.5 768.1 L1008.5 763.9 L1013.5 762.4 L1018.5 762.6 L1023.5 765.5 L1028.5 770.5 L1033.5 774.3 L1038.5 774.9 L1043.5 776.0 L1048.5 775.7 L1053.5 774.7 L1058.5 772.6 L1063.5 772.9 L1068.5 773.3 L1073.5 776.2 L1078.5 779.2 L1083.5 782.1 L1088.5 785.2 L1093.5 788.6 L1098.5 787.1 L1103.5 790.4 L1108.5 796.7 L1113.5 804.9 L1118.5 809.5 L1123.5 815.4 L1128.5 819.4 L1133.5 824.5 L1138.5 821.3 L1143.5 817.7 L1148.5 813.8 L1153.5 808.6 L1158.5 802.6 L1163.5 795.5 L1168.5 786.1 L1173.5 777.5 L1178.5 765.5 L1183.5 749.9 L1188.5 737.5 L1193.5 724.4 L1198.5 713.3 L1203.5 704.0 L1208.5 699.1 L1213.5 697.1 L1218.5 697.7 L1223.5 705.0 L1228.5 713.5 L1233.5 721.2 L1238.5 727.7 L1243.5 733.2 L1248.5 739.7 L1253.5 745.3 L1258.5 747.9 L1263.5 746.6 L1268.5 743.0 L1273.5 739.0 L1278.5 734.8 L1283.5 734.4 L1288.5 730.6 L1293.5 722.8 L1298.5 718.1 L1303.5 715.5 L1308.5 714.0 L1313.5 714.0 L1318.5 707.1 L1323.5 703.4 L1328.5 700.9 L1333.5 698.5 L1338.5 695.9 L1343.5 693.1 L1348.5 692.7 L1353.5 693.6 L1358.5 696.4 L1363.5 701.7 L1368.5 705.0 L1373.5 713.4 L1378.5 720.3 L1383.5 725.0 L1388.5 732.8 L1393.5 743.4 L1398.5 752.4 L1403.5 763.1 L1408.5 766.7 L1413.5 768.9 L1418.5 772.2 L1423.5 770.9 L1428.5 765.2 L1433.5 757.6 L1438.5 751.3 L1443.5 747.9 L1448.5 749.4 L1453.5 747.9 L1458.5 748.0 L1463.5 747.9 L1468.5 746.6 L1473.5 745.6 L1478.5 745.4 L1483.5 746.2 L1488.5 745.0 L1493.5 744.7 L1498.5 743.5 L1503.5 745.0 L1508.5 750.7 L1513.5 753.3 L1518.5 757.3 L1523.5 764.2 L1528.5 769.3 L1533.5 774.1 L1538.5 779.1 L1543.5 778.3 L1548.5 780.1 L1553.5 774.9 L1558.5 769.3 L1563.5 765.3 L1568.5 763.0 L1573.5 760.5 L1578.5 757.3" fill="none" stroke="#f23645" stroke-width="1.2" stroke-linejoin="round"/><text x="10" y="19" font-size="13" fill="#131722" textLength="395" lengthAdjust="spacingAndGlyphs">ChristianBorjon published on TradingView.com, Oct 03, 2022 18:49 UTC-5</text><g font-size="12" fill="#131722"><text x="18" y="45.8" textLength="15.1" lengthAdjust="spacingAndGlyphs">MA</text><text x="41.5" y="45.8" textLength="40.5" lengthAdjust="spacingAndGlyphs" fill="#e91e63">141.921</text><text x="18" y="62.8" textLength="15.1" lengthAdjust="spacingAndGlyphs">MA</text><text x="41.5" y="62.8" textLength="40.5" lengthAdjust="spacingAndGlyphs" fill="#3a3af2">141.817</text><text x="18" y="79.8" textLength="15.1" lengthAdjust="spacingAndGlyphs">MA</text><text x="41.5" y="79.8" textLength="40.5" lengthAdjust="spacingAndGlyphs" fill="#7c4dff">140.762</text><text x="18" y="96.8" textLength="15.1" lengthAdjust="spacingAndGlyphs">MA</text><text x="41.5" y="96.8" textLength="40.5" lengthAdjust="spacingAndGlyphs" fill="#f57c00">140.254</text><text x="18" y="113.8" textLength="31.4" lengthAdjust="spacingAndGlyphs">Pivots</text><text x="18" y="687" textLength="14.7" lengthAdjust="spacingAndGlyphs">RSI</text><text x="41.5" y="687" textLength="29" lengthAdjust="spacingAndGlyphs" fill="#7e57c2">56.66</text><text x="78.3" y="687" textLength="29.3" lengthAdjust="spacingAndGlyphs" fill="#f23645">54.76</text><text x="1769" y="45" textLength="19.3" lengthAdjust="spacingAndGlyphs">JPY</text><text x="1769" y="79.8" textLength="42" lengthAdjust="spacingAndGlyphs">144.000</text><text x="1769" y="120.9" textLength="42" lengthAdjust="spacingAndGlyphs">143.500</text><text x="1769" y="162.1" textLength="42" lengthAdjust="spacingAndGlyphs">143.000</text><text x="1769" y="203.2" textLength="42" lengthAdjust="spacingAndGlyphs">142.500</text><text x="1769" y="244.3" textLength="42" lengthAdjust="spacingAndGlyphs">142.000</text><text x="1769" y="285.4" textLength="42" lengthAdjust="spacingAndGlyphs">141.500</text><text x="1769" y="326.6" textLength="42" lengthAdjust="spacingAndGlyphs">141.000</text><text x="1769" y="367.7" textLength="42" lengthAdjust="spacingAndGlyphs">140.500</text><text x="1769" y="408.8" textLength="42" lengthAdjust="spacingAndGlyphs">140.000</text><text x="1769" y="449.9" textLength="42" lengthAdjust="spacingAndGlyphs">139.500</text><text x="1769" y="491.1" textLength="42" lengthAdjust="spacingAndGlyphs">139.000</text><text x="1769" y="532.2" textLength="42" lengthAdjust="spacingAndGlyphs">138.500</text><text x="1769" y="573.3" textLength="42" lengthAdjust="spacingAndGlyphs">138.000</text><text x="1769" y="614.4" textLength="42" lengthAdjust="spacingAndGlyphs">137.500</text><text x="1769" y="655.5" textLength="42" lengthAdjust="spacingAndGlyphs">137.000</text><text x="1769" y="681.5" textLength="29.3" lengthAdjust="spacingAndGlyphs">80.00</text><text x="1769" y="713.5" textLength="29.3" lengthAdjust="spacingAndGlyphs">70.00</text><text x="1769" y="745.5" textLength="29.3" lengthAdjust="spacingAndGlyphs">60.00</text><text x="1769" y="809.5" textLength="29.3" lengthAdjust="spacingAndGlyphs">40.00</text><text x="1769" y="840.5" textLength="29.3" lengthAdjust="spacingAndGlyphs">30.00</text><text x="41.9" y="885" textLength="11.9" lengthAdjust="spacingAndGlyphs">15</text><text x="162.0" y="885" textLength="11.9" lengthAdjust="spacingAndGlyphs">16</text><text x="281.9" y="885" textLength="11.9" lengthAdjust="spacingAndGlyphs">19</text><text x="401.9" y="885" textLength="11.9" lengthAdjust="spacingAndGlyphs">20</text><text x="521.9" y="885" textLength="11.9" lengthAdjust="spacingAndGlyphs">21</text><text x="641.9" y="885" textLength="11.9" lengthAdjust="spacingAndGlyphs">22</text><text x="761.9" y="885" textLength="11.9" lengthAdjust="spacingAndGlyphs">23</text><text x="881.9" y="885" textLength="11.9" lengthAdjust="spacingAndGlyphs">26</text><text x="1001.9" y="885" textLength="11.9" lengthAdjust="spacingAndGlyphs">27</text><text x="1122.0" y="885" textLength="11.9" lengthAdjust="spacingAndGlyphs">28</text><text x="1242.0" y="885" textLength="11.9" lengthAdjust="spacingAndGlyphs">29</text><text x="1323.6" y="885" textLength="28.7" lengthAdjust="spacingAndGlyphs">18:00</text><text x="1438.5" y="885" textLength="18.8" lengthAdjust="spacingAndGlyphs">Oct</text><text x="1605.1" y="885" textLength="5.6" lengthAdjust="spacingAndGlyphs">4</text><text x="1724.1" y="885" textLength="5.6" lengthAdjust="spacingAndGlyphs">5</text></g><path d="M1708.5 220H1758V237H1708.5Q1706 237 1706 234.5V222.5Q1706 220 1708.5 220z" fill="#089981"/><path d="M1759 220H1815.5Q1818 220 1818 222.5V234.5Q1818 237 1815.5 237H1759z" fill="#089981"/><text x="1711.7" y="232.7" font-size="12" fill="#fff" stroke="#fff" stroke-width="0.45" textLength="40.3" lengthAdjust="spacingAndGlyphs">EURJPY</text><text x="1769.5" y="232.7" font-size="12" fill="#fff" stroke="#fff" stroke-width="0.45" textLength="41.5" lengthAdjust="spacingAndGlyphs">142.145</text><path d="M1733.5 238H1758V255H1733.5Q1731 255 1731 252.5V240.5Q1731 238 1733.5 238z" fill="#e91e63"/><path d="M1759 238H1815.5Q1818 238 1818 240.5V252.5Q1818 255 1815.5 255H1759z" fill="#e91e63"/><text x="1736.5" y="250.7" font-size="12" fill="#fff" stroke="#fff" stroke-width="0.45" textLength="15.5" lengthAdjust="spacingAndGlyphs">MA</text><text x="1769.5" y="250.7" font-size="12" fill="#fff" stroke="#fff" stroke-width="0.45" textLength="41.5" lengthAdjust="spacingAndGlyphs">141.921</text><path d="M1733.5 255H1758V272H1733.5Q1731 272 1731 269.5V257.5Q1731 255 1733.5 255z" fill="#2a2af2"/><path d="M1759 255H1815.5Q1818 255 1818 257.5V269.5Q1818 272 1815.5 272H1759z" fill="#2a2af2"/><text x="1736.5" y="267.7" font-size="12" fill="#fff" stroke="#fff" stroke-width="0.45" textLength="15.5" lengthAdjust="spacingAndGlyphs">MA</text><text x="1769.5" y="267.7" font-size="12" fill="#fff" stroke="#fff" stroke-width="0.45" textLength="41.5" lengthAdjust="spacingAndGlyphs">141.817</text><path d="M1733.5 334H1758V351H1733.5Q1731 351 1731 348.5V336.5Q1731 334 1733.5 334z" fill="#7c3cf0"/><path d="M1759 334H1815.5Q1818 334 1818 336.5V348.5Q1818 351 1815.5 351H1759z" fill="#7c3cf0"/><text x="1736.5" y="346.7" font-size="12" fill="#fff" stroke="#fff" stroke-width="0.45" textLength="15.5" lengthAdjust="spacingAndGlyphs">MA</text><text x="1769.5" y="346.7" font-size="12" fill="#fff" stroke="#fff" stroke-width="0.45" textLength="41.5" lengthAdjust="spacingAndGlyphs">140.762</text><path d="M1733.5 375H1758V392H1733.5Q1731 392 1731 389.5V377.5Q1731 375 1733.5 375z" fill="#f57c00"/><path d="M1759 375H1815.5Q1818 375 1818 377.5V389.5Q1818 392 1815.5 392H1759z" fill="#f57c00"/><text x="1736.5" y="387.7" font-size="12" fill="#fff" stroke="#fff" stroke-width="0.45" textLength="15.5" lengthAdjust="spacingAndGlyphs">MA</text><text x="1769.5" y="387.7" font-size="12" fill="#fff" stroke="#fff" stroke-width="0.45" textLength="41.5" lengthAdjust="spacingAndGlyphs">140.254</text><path d="M1732.5 743H1758V760H1732.5Q1730 760 1730 757.5V745.5Q1730 743 1732.5 743z" fill="#7e57c2"/><path d="M1759 743H1802.5Q1805 743 1805 745.5V757.5Q1805 760 1802.5 760H1759z" fill="#7e57c2"/><text x="1736.5" y="755.7" font-size="12" fill="#fff" stroke="#fff" stroke-width="0.45" textLength="15.5" lengthAdjust="spacingAndGlyphs">RSI</text><text x="1769.5" y="755.7" font-size="12" fill="#fff" stroke="#fff" stroke-width="0.45" textLength="29" lengthAdjust="spacingAndGlyphs">56.66</text><path d="M1678.5 760H1758V777H1678.5Q1676 777 1676 774.5V762.5Q1676 760 1678.5 760z" fill="#f23645"/><path d="M1759 760H1802.5Q1805 760 1805 762.5V774.5Q1805 777 1802.5 777H1759z" fill="#f23645"/><text x="1681.5" y="772.7" font-size="12" fill="#fff" stroke="#fff" stroke-width="0.45" textLength="70.5" lengthAdjust="spacingAndGlyphs">RSI-based MA</text><text x="1769.5" y="772.7" font-size="12" fill="#fff" stroke="#fff" stroke-width="0.45" textLength="29" lengthAdjust="spacingAndGlyphs">54.76</text><g fill="#131722"><path d="M10 907.1h8.1v9.6h-4.1v-5.6h-4z"/><circle cx="21.1" cy="909" r="1.85"/><path d="M24.3 907.1h5.4l-3.5 9.6h-5z"/><text x="33" y="916.7" font-size="13" fill="#1e222d" textLength="70" lengthAdjust="spacingAndGlyphs">TradingView</text></g></g></svg></body></html>
